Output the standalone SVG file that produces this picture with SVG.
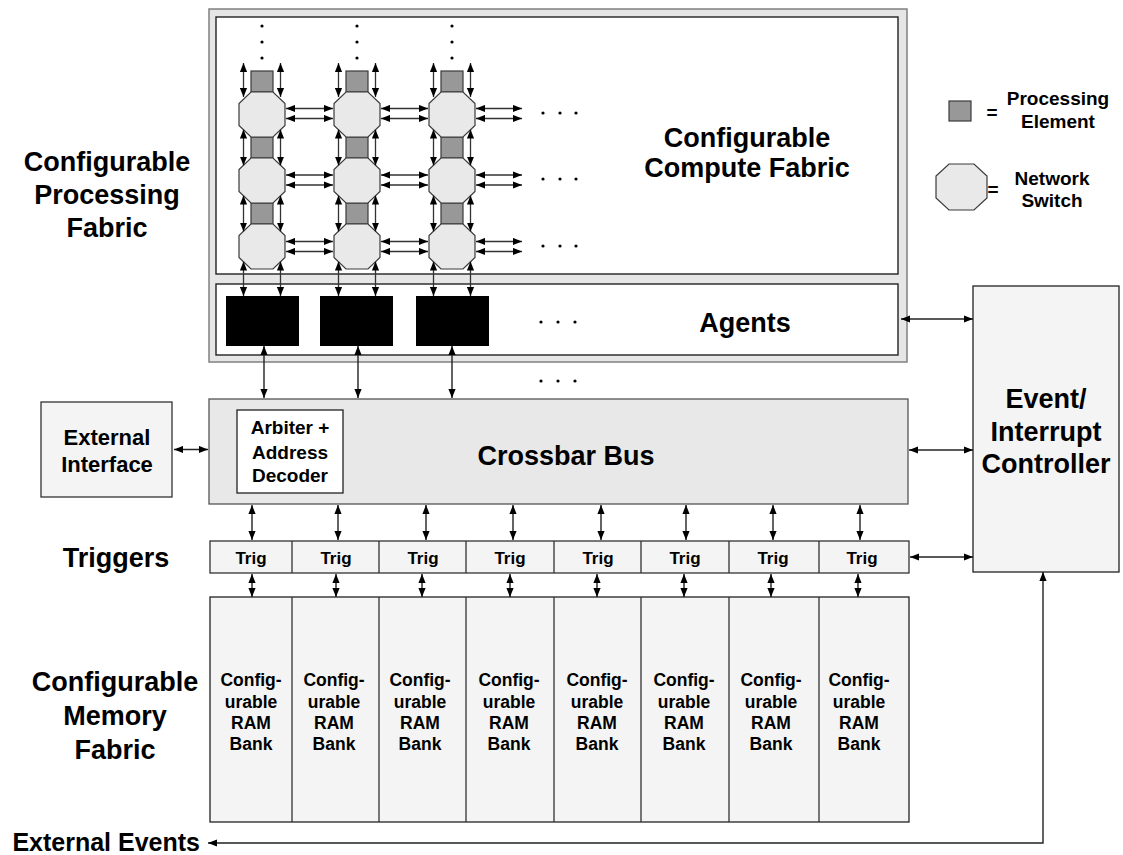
<svg xmlns="http://www.w3.org/2000/svg" xmlns:xlink="http://www.w3.org/1999/xlink" width="1123" height="855" viewBox="0 0 1123 855">
<style>
text{font-family:"Liberation Sans",Arial,sans-serif;font-weight:bold;fill:#000;text-anchor:middle}
.big{font-size:27px}
.mid{font-size:22px}
.leg{font-size:19px}
.arb{font-size:19px}
.trig{font-size:17px}
.ram{font-size:17.5px}
.pe{fill:#989898;stroke:#3a3a3a;stroke-width:1.2}
.sw{fill:#e9e9e9;stroke:#3a3a3a;stroke-width:1.2}
.ln{fill:none;stroke:#222;stroke-width:1.4;marker-start:url(#ah);marker-end:url(#ah)}
.gl{fill:none;stroke:#333;stroke-width:1.3;marker-start:url(#ah);marker-end:url(#ah)}
.dot{fill:#000}
</style>
<defs>
<marker id="ah" viewBox="0 0 10 8" refX="10" refY="4" markerWidth="9" markerHeight="8" markerUnits="userSpaceOnUse" orient="auto-start-reverse"><path d="M0,0 L10,4 L0,8 z" fill="#000"/></marker>
<polygon id="oct" points="-11,-22.5 11,-22.5 23,-11 23,11 11,22.5 -11,22.5 -23,11 -23,-11"/>
</defs>
<rect width="1123" height="855" fill="#fff"/>

<g id="processing-fabric">
<rect x="209" y="9" width="698" height="353" fill="#e6e6e6" stroke="#808080" stroke-width="1.5"/>
</g>
<g id="compute-fabric">
<rect x="216" y="17" width="682" height="257" fill="#fff" stroke="#222" stroke-width="1.4"/>
<text class="big" x="747" y="147">Configurable</text>
<text class="big" x="747" y="177">Compute Fabric</text>
</g>
<g id="agents">
<rect x="216" y="284" width="682" height="71" fill="#fff" stroke="#222" stroke-width="1.4"/>
<text class="big" x="745" y="332">Agents</text>
</g>
<g id="agent1"><rect x="226" y="296" width="73" height="50" fill="#000"/></g>
<g id="agent2"><rect x="320" y="296" width="73" height="50" fill="#000"/></g>
<g id="agent3"><rect x="416" y="296" width="73" height="50" fill="#000"/></g>

<!-- grid nodes -->
<g id="pe-r1c1"><rect class="pe" x="251" y="71" width="22" height="21"/></g>
<g id="pe-r2c1"><rect class="pe" x="251" y="137" width="22" height="21"/></g>
<g id="pe-r3c1"><rect class="pe" x="251" y="203" width="22" height="21"/></g>
<g id="pe-r1c2"><rect class="pe" x="346" y="71" width="22" height="21"/></g>
<g id="pe-r2c2"><rect class="pe" x="346" y="137" width="22" height="21"/></g>
<g id="pe-r3c2"><rect class="pe" x="346" y="203" width="22" height="21"/></g>
<g id="pe-r1c3"><rect class="pe" x="441" y="71" width="22" height="21"/></g>
<g id="pe-r2c3"><rect class="pe" x="441" y="137" width="22" height="21"/></g>
<g id="pe-r3c3"><rect class="pe" x="441" y="203" width="22" height="21"/></g>

<g id="sw-r1c1"><use xlink:href="#oct" href="#oct" class="sw" x="262" y="114.5"/></g>
<g id="sw-r2c1"><use xlink:href="#oct" href="#oct" class="sw" x="262" y="180.5"/></g>
<g id="sw-r3c1"><use xlink:href="#oct" href="#oct" class="sw" x="262" y="246.5"/></g>
<g id="sw-r1c2"><use xlink:href="#oct" href="#oct" class="sw" x="357" y="114.5"/></g>
<g id="sw-r2c2"><use xlink:href="#oct" href="#oct" class="sw" x="357" y="180.5"/></g>
<g id="sw-r3c2"><use xlink:href="#oct" href="#oct" class="sw" x="357" y="246.5"/></g>
<g id="sw-r1c3"><use xlink:href="#oct" href="#oct" class="sw" x="452" y="114.5"/></g>
<g id="sw-r2c3"><use xlink:href="#oct" href="#oct" class="sw" x="452" y="180.5"/></g>
<g id="sw-r3c3"><use xlink:href="#oct" href="#oct" class="sw" x="452" y="246.5"/></g>

<g id="dots">
<circle class="dot" cx="262" cy="26" r="1.6"/><circle class="dot" cx="262" cy="42" r="1.6"/><circle class="dot" cx="262" cy="58" r="1.6"/>
<circle class="dot" cx="357" cy="26" r="1.6"/><circle class="dot" cx="357" cy="42" r="1.6"/><circle class="dot" cx="357" cy="58" r="1.6"/>
<circle class="dot" cx="452" cy="26" r="1.6"/><circle class="dot" cx="452" cy="42" r="1.6"/><circle class="dot" cx="452" cy="58" r="1.6"/>
<circle class="dot" cx="543" cy="113" r="1.6"/><circle class="dot" cx="560" cy="113" r="1.6"/><circle class="dot" cx="576" cy="113" r="1.6"/>
<circle class="dot" cx="543" cy="179" r="1.6"/><circle class="dot" cx="560" cy="179" r="1.6"/><circle class="dot" cx="576" cy="179" r="1.6"/>
<circle class="dot" cx="543" cy="246" r="1.6"/><circle class="dot" cx="560" cy="246" r="1.6"/><circle class="dot" cx="576" cy="246" r="1.6"/>
<circle class="dot" cx="541" cy="322" r="1.6"/><circle class="dot" cx="558" cy="322" r="1.6"/><circle class="dot" cx="575" cy="322" r="1.6"/>
<circle class="dot" cx="541" cy="381" r="1.6"/><circle class="dot" cx="558" cy="381" r="1.6"/><circle class="dot" cx="575" cy="381" r="1.6"/>
</g>

<g id="legend">
<rect class="pe" x="949" y="101" width="22" height="20"/>
<text class="leg" x="992" y="119">=</text>
<text class="leg" x="1058" y="105">Processing</text>
<text class="leg" x="1058" y="128">Element</text>
<polygon class="sw" points="949,164 974,164 987,176 987,198 974,210 949,210 936,198 936,176"/>
<text class="leg" x="993" y="196">=</text>
<text class="leg" x="1052" y="185">Network</text>
<text class="leg" x="1052" y="207">Switch</text>
</g>

<g id="labels">
<text class="big" x="107" y="171">Configurable</text>
<text class="big" x="107" y="204">Processing</text>
<text class="big" x="107" y="237">Fabric</text>
<text class="big" x="116" y="567">Triggers</text>
<text class="big" x="115" y="691">Configurable</text>
<text class="big" x="115" y="725">Memory</text>
<text class="big" x="115" y="759">Fabric</text>
<text class="big" x="200" y="851" style="font-size:25px;text-anchor:end">External Events</text>
</g>

<g id="external-interface">
<rect x="41" y="402" width="131" height="95" fill="#f4f4f4" stroke="#333" stroke-width="1.3"/>
<text class="mid" x="107" y="445">External</text>
<text class="mid" x="107" y="472">Interface</text>
</g>
<g id="crossbar">
<rect x="209" y="399" width="699" height="105" fill="#e8e8e8" stroke="#555" stroke-width="1.3"/>
<text class="big" x="566" y="465">Crossbar Bus</text>
</g>
<g id="arbiter">
<rect x="237" y="410" width="106" height="83" fill="#fff" stroke="#222" stroke-width="1.3"/>
<text class="arb" x="290" y="434">Arbiter +</text>
<text class="arb" x="290" y="459">Address</text>
<text class="arb" x="290" y="482">Decoder</text>
</g>
<g id="controller">
<rect x="973" y="286" width="146" height="286" fill="#f4f4f4" stroke="#222" stroke-width="1.3"/>
<text class="big" x="1046" y="408">Event/</text>
<text class="big" x="1046" y="441">Interrupt</text>
<text class="big" x="1046" y="473">Controller</text>
</g>

<g id="triggers">
<rect x="210" y="541" width="699" height="32" fill="#f4f4f4" stroke="#333" stroke-width="1.3"/>
<path d="M292,541V573M379,541V573M466,541V573M554,541V573M641,541V573M729,541V573M819,541V573" stroke="#333" stroke-width="1.3"/>
<text class="trig" x="251" y="564">Trig</text>
<text class="trig" x="336" y="564">Trig</text>
<text class="trig" x="423" y="564">Trig</text>
<text class="trig" x="510" y="564">Trig</text>
<text class="trig" x="598" y="564">Trig</text>
<text class="trig" x="685" y="564">Trig</text>
<text class="trig" x="773" y="564">Trig</text>
<text class="trig" x="862" y="564">Trig</text>
</g>

<g id="ram-banks">
<rect x="210" y="597" width="699" height="225" fill="#f4f4f4" stroke="#222" stroke-width="1.3"/>
<path d="M292,597V822M379,597V822M466,597V822M554,597V822M641,597V822M729,597V822M819,597V822" stroke="#333" stroke-width="1.3"/>
<g id="bank1"><text class="ram" x="251" y="686">Config-</text><text class="ram" x="251" y="708">urable</text><text class="ram" x="251" y="729">RAM</text><text class="ram" x="251" y="750">Bank</text></g>
<g id="bank2"><text class="ram" x="334" y="686">Config-</text><text class="ram" x="334" y="708">urable</text><text class="ram" x="334" y="729">RAM</text><text class="ram" x="334" y="750">Bank</text></g>
<g id="bank3"><text class="ram" x="420" y="686">Config-</text><text class="ram" x="420" y="708">urable</text><text class="ram" x="420" y="729">RAM</text><text class="ram" x="420" y="750">Bank</text></g>
<g id="bank4"><text class="ram" x="509" y="686">Config-</text><text class="ram" x="509" y="708">urable</text><text class="ram" x="509" y="729">RAM</text><text class="ram" x="509" y="750">Bank</text></g>
<g id="bank5"><text class="ram" x="597" y="686">Config-</text><text class="ram" x="597" y="708">urable</text><text class="ram" x="597" y="729">RAM</text><text class="ram" x="597" y="750">Bank</text></g>
<g id="bank6"><text class="ram" x="684" y="686">Config-</text><text class="ram" x="684" y="708">urable</text><text class="ram" x="684" y="729">RAM</text><text class="ram" x="684" y="750">Bank</text></g>
<g id="bank7"><text class="ram" x="771" y="686">Config-</text><text class="ram" x="771" y="708">urable</text><text class="ram" x="771" y="729">RAM</text><text class="ram" x="771" y="750">Bank</text></g>
<g id="bank8"><text class="ram" x="859" y="686">Config-</text><text class="ram" x="859" y="708">urable</text><text class="ram" x="859" y="729">RAM</text><text class="ram" x="859" y="750">Bank</text></g>
</g>

<g id="connectors">
<!-- grid vertical -->
<path class="gl" d="M243.5,63V97"/><path class="gl" d="M280.5,63V97"/>
<path class="gl" d="M243.5,129.5V165.5"/><path class="gl" d="M280.5,129.5V165.5"/>
<path class="gl" d="M243.5,195.5V231.5"/><path class="gl" d="M280.5,195.5V231.5"/>
<path class="gl" d="M243.5,261.5V296"/><path class="gl" d="M280.5,261.5V296"/>
<path class="gl" d="M338.5,63V97"/><path class="gl" d="M375.5,63V97"/>
<path class="gl" d="M338.5,129.5V165.5"/><path class="gl" d="M375.5,129.5V165.5"/>
<path class="gl" d="M338.5,195.5V231.5"/><path class="gl" d="M375.5,195.5V231.5"/>
<path class="gl" d="M338.5,261.5V296"/><path class="gl" d="M375.5,261.5V296"/>
<path class="gl" d="M433.5,63V97"/><path class="gl" d="M470.5,63V97"/>
<path class="gl" d="M433.5,129.5V165.5"/><path class="gl" d="M470.5,129.5V165.5"/>
<path class="gl" d="M433.5,195.5V231.5"/><path class="gl" d="M470.5,195.5V231.5"/>
<path class="gl" d="M433.5,261.5V296"/><path class="gl" d="M470.5,261.5V296"/>
<!-- grid horizontal -->
<path class="gl" d="M286,108.5H333"/><path class="gl" d="M286,118.5H333"/>
<path class="gl" d="M381,108.5H428"/><path class="gl" d="M381,118.5H428"/>
<path class="gl" d="M476,108.5H522"/><path class="gl" d="M476,118.5H522"/>
<path class="gl" d="M286,175H333"/><path class="gl" d="M286,185H333"/>
<path class="gl" d="M381,175H428"/><path class="gl" d="M381,185H428"/>
<path class="gl" d="M476,175H522"/><path class="gl" d="M476,185H522"/>
<path class="gl" d="M286,241.5H333"/><path class="gl" d="M286,251.5H333"/>
<path class="gl" d="M381,241.5H428"/><path class="gl" d="M381,251.5H428"/>
<path class="gl" d="M476,241.5H522"/><path class="gl" d="M476,251.5H522"/>
<!-- agents to crossbar -->
<path class="ln" d="M264,346V398"/><path class="ln" d="M358,346V398"/><path class="ln" d="M452,346V398"/>
<!-- external interface -->
<path class="ln" d="M174,449.5H208"/>
<!-- to controller -->
<path class="ln" d="M901,319H973"/>
<path class="ln" d="M909,450H973"/>
<path class="ln" d="M910,557H973"/>
<!-- crossbar to triggers -->
<path class="ln" d="M252,505V540"/><path class="ln" d="M338,505V540"/><path class="ln" d="M426,505V540"/><path class="ln" d="M513,505V540"/>
<path class="ln" d="M601,505V540"/><path class="ln" d="M686,505V540"/><path class="ln" d="M773,505V540"/><path class="ln" d="M860,505V540"/>
<!-- triggers to banks -->
<path class="ln" d="M252,574V597"/><path class="ln" d="M336,574V597"/><path class="ln" d="M422,574V597"/><path class="ln" d="M510,574V597"/>
<path class="ln" d="M597,574V597"/><path class="ln" d="M684,574V597"/><path class="ln" d="M771,574V597"/><path class="ln" d="M858,574V597"/>
<!-- external events -->
<path class="ln" d="M1043,572V843H208"/>
</g>
</svg>
